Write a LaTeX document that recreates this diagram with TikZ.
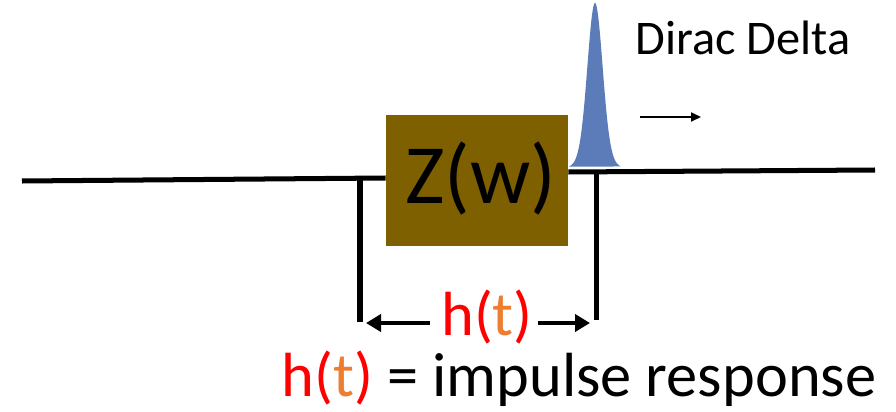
\documentclass[tikz,border=0pt]{standalone}
\usepackage{fontspec}
\setmainfont{Carlito}
\usepackage{tikz}
\usetikzlibrary{arrows.meta, positioning, calc}
\definecolor{zbrown}{RGB}{127,96,0}
\definecolor{pulseblue}{RGB}{91,124,185}
\definecolor{torange}{RGB}{237,125,49}
\newcommand{\hoft}{\textcolor{red}{h(}\textcolor{torange}{t}\textcolor{red}{)}}

\begin{document}
\begin{tikzpicture}[
  wire/.style={line width=2.85pt},
  zbox/.style={draw=none, fill=zbrown, minimum width=3.64cm, minimum height=2.62cm, inner sep=0pt, font=\fontsize{48}{52}\selectfont},
  dimarr/.style={-{Triangle[length=0.3cm, width=0.34cm]}, line width=2.6pt},
  smallarr/.style={-{Triangle[length=0.2cm, width=0.18cm]}, line width=1.2pt},
  big/.style={font=\fontsize{35.5}{40}\selectfont, inner sep=0pt, anchor=base}
]
\useasboundingbox (0,0) rectangle (17.92,8.22);

% line with the block
\node[zbox] (zw) at (9.54,4.61) {};
\node[font=\fontsize{48}{52}\selectfont, inner sep=0pt, anchor=base] (zt) at (9.61,4.16) {Z(w)};
\coordinate (lstart) at (0.44,4.60);
\coordinate (rend) at (17.5,4.82);
\draw[wire] (lstart) -- (zw.west |- 0,4.66);
\draw[wire] (zw.east |- 0,4.78) -- (rend);

% pulse
\fill[pulseblue] plot[domain=-0.52:0.52, samples=100, smooth]
  ({11.9+\x},{4.84+3.05*exp(-(\x*\x)/(2*0.15*0.15))+0.27*exp(-(\x*\x)/(2*0.27*0.27))}) -- cycle;
\node[font=\fontsize{27.5}{30}\selectfont, anchor=base west, inner sep=0pt] (dd) at (12.7,7.12) {Dirac Delta};
\coordinate (mvs) at (12.8,5.88);
\coordinate (mve) at (14.02,5.88);
\draw[smallarr] (mvs) -- (mve);

% ends of h(t)
\coordinate (la) at (7.2,4.66);
\coordinate (lb) at (7.2,1.78);
\coordinate (ra) at (11.92,4.78);
\coordinate (rb) at (11.92,1.82);
\draw[wire] (la) -- (lb);
\draw[wire] (ra) -- (rb);

% h(t) span
\node[big] (ht) at (9.74,1.52) {\hoft};
\coordinate (ltip) at (7.32,1.76);
\coordinate (rtip) at (11.8,1.76);
\draw[dimarr] ($(ht.west |- ltip)+(-0.22,0)$) -- (ltip);
\draw[dimarr] ($(ht.east |- rtip)+(0.1,0)$) -- (rtip);

\node[big] (def) at (11.58,0.3) {\hoft{} = impulse response};

\end{tikzpicture}
\end{document}
